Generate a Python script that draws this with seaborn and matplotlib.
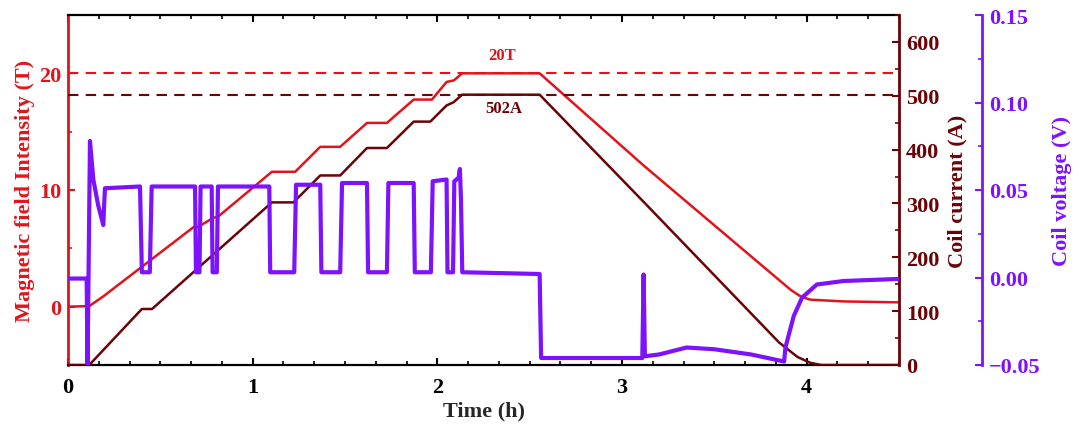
import matplotlib
matplotlib.use("Agg")
import matplotlib.pyplot as plt
import numpy as np
import pandas as pd
import seaborn as sns
from matplotlib.ticker import MultipleLocator, FuncFormatter

# ---------------- data ----------------
field_t = [0, 0.115, 0.191, 0.679, 0.706, 0.788, 0.81, 1.104, 1.23, 1.366, 1.474,
           1.619, 1.727, 1.872, 1.971, 2.05, 2.09, 2.134, 2.554, 3.117, 3.913,
           3.97, 4.02, 4.2, 4.5]
field_T = [0, 0.05, 0.88, 6.81, 6.85, 7.63, 7.68, 11.56, 11.56, 13.7, 13.7,
           15.75, 15.75, 17.75, 17.75, 19.26, 19.4, 20.0, 20.0, 12.1, 1.45,
           0.85, 0.6, 0.45, 0.37]

current_t = [0, 0.115, 0.40, 0.455, 1.104, 1.221, 1.366, 1.474, 1.619, 1.727,
             1.872, 1.962, 2.05, 2.088, 2.134, 2.554, 3.117, 3.85, 3.95, 4.02,
             4.08, 4.5]
current_A = [0, 0, 104, 104, 302, 302, 352, 352, 403, 403,
             452, 452, 482, 488, 502, 502, 303, 42, 15, 4,
             0, 0]

voltage_t = [0, 0.101, 0.106, 0.119, 0.137, 0.164, 0.191, 0.200, 0.39, 0.40,
             0.443, 0.453, 0.688, 0.693, 0.712, 0.718, 0.778, 0.783, 0.806, 0.812,
             1.09, 1.095, 1.225, 1.235, 1.366, 1.372, 1.474, 1.484, 1.619, 1.625,
             1.727, 1.735, 1.872, 1.878, 1.965, 1.975, 2.05, 2.055, 2.085, 2.092,
             2.115, 2.122, 2.128, 2.135, 2.554, 2.562, 3.11, 3.117, 3.124, 3.20,
             3.35, 3.50, 3.70, 3.878, 3.885, 3.93, 3.975, 4.055, 4.2, 4.5]
voltage_V = [-0.0006, -0.0006, -0.05, 0.078, 0.056, 0.041, 0.030, 0.051, 0.052, 0.003,
             0.003, 0.052, 0.052, 0.003, 0.003, 0.052, 0.052, 0.003, 0.003, 0.052,
             0.052, 0.003, 0.003, 0.053, 0.053, 0.003, 0.003, 0.054, 0.054, 0.003,
             0.003, 0.054, 0.054, 0.003, 0.003, 0.055, 0.056, 0.003, 0.003, 0.055,
             0.057, 0.062, 0.045, 0.003, 0.002, -0.046, -0.046, 0.0017, -0.045, -0.044,
             -0.040, -0.041, -0.044, -0.048, -0.040, -0.022, -0.0115, -0.004, -0.002, -0.0008]

field_target = 20.0
current_target = 502
label_field = "20T"
label_current = "502A"

# ---------------- style ----------------
sns.set_theme(style="white")
plt.rcParams["font.family"] = ["Liberation Serif", "DejaVu Serif"]
plt.rcParams["font.weight"] = "bold"
plt.rcParams["axes.labelweight"] = "bold"

RED = "#e3131b"
DARK = "#6b0306"
PURPLE = "#7d12ff"
FS = 16

df_f = pd.DataFrame({"t": field_t, "v": field_T})
df_c = pd.DataFrame({"t": current_t, "v": current_A})
df_v = pd.DataFrame({"t": voltage_t, "v": voltage_V})

fig = plt.figure(figsize=(10.8, 4.31), dpi=100)
ax = fig.add_axes([68 / 1080, 65 / 431, (899 - 68) / 1080, 350 / 431])
ax2 = ax.twinx()
ax3 = ax.twinx()

# dashed reference lines
ax.axhline(field_target, color=RED, lw=1.5, ls=(0, (5, 3.5)), zorder=1)
ax2.axhline(current_target, color=DARK, lw=1.5, ls=(0, (5, 3.5)), zorder=1)

sns.lineplot(data=df_f, x="t", y="v", ax=ax, color=RED, lw=1.8, sort=False, estimator=None)
sns.lineplot(data=df_c, x="t", y="v", ax=ax2, color=DARK, lw=1.8, sort=False, estimator=None)
sns.lineplot(data=df_v, x="t", y="v", ax=ax3, color=PURPLE, lw=3.0, sort=False, estimator=None)

ax.text(2.35, 20.9, label_field, color=RED, fontsize=12, fontweight="bold", ha="center", va="bottom")
ax.text(2.36, 17.0, label_current, color=DARK, fontsize=12, fontweight="bold", ha="center", va="center")

# limits
ax.set_xlim(0, 4.5)
ax.set_ylim(-5, 25)
ax2.set_ylim(0, 650)
ax3.set_ylim(-0.05, 0.15)

# x axis
ax.xaxis.set_major_locator(MultipleLocator(1))
ax.xaxis.set_minor_locator(MultipleLocator(1 / 6))
ax.tick_params(axis="x", which="both", direction="in", top=True, bottom=True,
               labelsize=FS, colors="black", pad=9)
ax.tick_params(axis="x", which="major", length=5, width=1.5)
ax.tick_params(axis="x", which="minor", length=3, width=1.2)
ax.set_xlabel("Time (h)", fontsize=FS, fontweight="bold", labelpad=2)

# left axis
ax.yaxis.set_major_locator(MultipleLocator(10))
ax.yaxis.set_minor_locator(MultipleLocator(5))
ax.tick_params(axis="y", which="both", direction="in", left=True, right=False,
               labelsize=FS, colors=RED, pad=5)
ax.tick_params(axis="y", which="major", length=5, width=1.5)
ax.tick_params(axis="y", which="minor", length=3, width=1.2)
ax.set_ylabel("Magnetic field Intensity (T)", fontsize=FS, color=RED, fontweight="bold", labelpad=3)

# right current axis
ax2.yaxis.set_major_locator(MultipleLocator(100))
ax2.yaxis.set_minor_locator(MultipleLocator(50))
ax2.tick_params(axis="y", which="both", direction="in", right=True, left=False,
                labelsize=FS, colors=DARK, pad=5)
ax2.tick_params(axis="y", which="major", length=5, width=1.5)
ax2.tick_params(axis="y", which="minor", length=3, width=1.2)
ax2.set_ylabel("Coil current (A)", fontsize=FS, color=DARK, fontweight="bold", labelpad=6)

# voltage axis
ax3.spines["right"].set_position(("outward", 60))
ax3.yaxis.set_major_locator(MultipleLocator(0.05))
ax3.yaxis.set_minor_locator(MultipleLocator(0.025))
ax3.yaxis.set_major_formatter(FuncFormatter(lambda v, p: f"{v:.2f}".replace("-", "\u2212")))
ax3.tick_params(axis="y", which="both", direction="in", right=True, left=False,
                labelsize=FS, colors=PURPLE, pad=5)
ax3.tick_params(axis="y", which="major", length=5, width=1.5)
ax3.tick_params(axis="y", which="minor", length=3, width=1.2)
ax3.set_ylabel("Coil voltage (V)", fontsize=FS, color=PURPLE, fontweight="bold", labelpad=8)

# spines
for a in (ax, ax2, ax3):
    for s in a.spines.values():
        s.set_visible(False)
ax.spines["top"].set_visible(True)
ax.spines["bottom"].set_visible(True)
ax.spines["top"].set_color("black")
ax.spines["bottom"].set_color("black")
ax.spines["top"].set_linewidth(1.6)
ax.spines["bottom"].set_linewidth(1.6)
ax.spines["left"].set_visible(True)
ax.spines["left"].set_color(RED)
ax.spines["left"].set_linewidth(2)
ax2.spines["right"].set_visible(True)
ax2.spines["right"].set_color(DARK)
ax2.spines["right"].set_linewidth(2)
ax3.spines["right"].set_visible(True)
ax3.spines["right"].set_color(PURPLE)
ax3.spines["right"].set_linewidth(2)

for a in (ax, ax2, ax3):
    a.grid(False)
    a.set_facecolor("none")
ax.set_facecolor("white")
ax2.set_xlabel("")
ax3.set_xlabel("")

fig.savefig("out.png", dpi=100, facecolor="white")
